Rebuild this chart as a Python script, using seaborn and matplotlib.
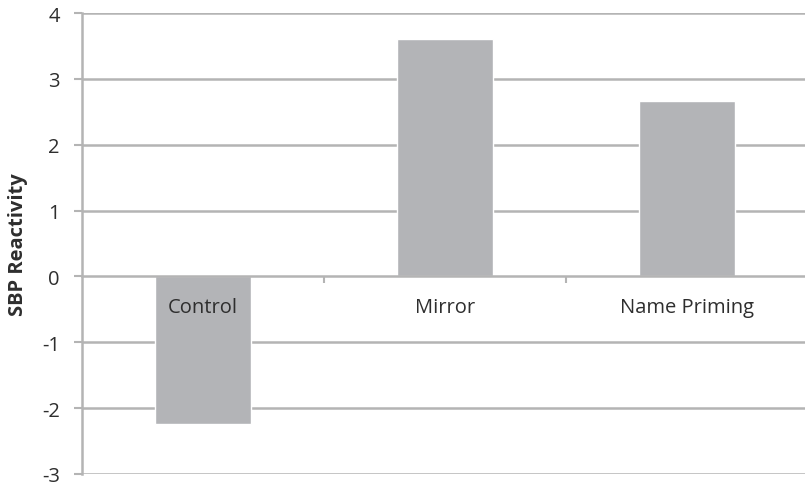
import matplotlib
matplotlib.use("Agg")
import matplotlib.pyplot as plt
import seaborn as sns
import pandas as pd

# Systolic blood pressure reactivity by condition
conditions = ["Control", "Mirror", "Name Priming"]
sbp_reactivity = [-2.24, 3.61, 2.67]
y_ticks = [-3, -2, -1, 0, 1, 2, 3, 4]

df = pd.DataFrame({"condition": conditions, "sbp": sbp_reactivity})

sns.set_theme(style="white")
plt.rcParams["font.family"] = ["Open Sans", "DejaVu Sans"]

bar_color = "#b3b4b7"
grid_color = "#b4b4b4"
text_color = "#2e2e2e"

fig = plt.figure(figsize=(8.05, 4.89), dpi=100)
ax = fig.add_axes([82 / 805, 14 / 489, 726 / 805, 461 / 489])

sns.barplot(data=df, x="condition", y="sbp", color=bar_color, width=0.395,
            saturation=1, ax=ax, zorder=3)

ax.set_ylim(-3, 4)
ax.set_xlim(-0.5, 2.5)
ax.set_yticks(y_ticks)
ax.set_yticklabels([str(t) for t in y_ticks])
for t in y_ticks:
    if t != 0:
        ax.axhline(t, color=grid_color, lw=1.8, zorder=1)

# Zero line acts as the category axis, labels hang just below it
for side in ["top", "right"]:
    ax.spines[side].set_visible(False)
ax.spines["bottom"].set_position(("data", 0))
ax.spines["bottom"].set_color(grid_color)
ax.spines["bottom"].set_linewidth(1.8)
ax.spines["bottom"].set_zorder(4)
ax.spines["left"].set_color(grid_color)
ax.spines["left"].set_linewidth(1.8)

ax.set_xticks([0, 1, 2])
ax.set_xticklabels(conditions)
ax.set_xticks([0.5, 1.5], minor=True)
ax.tick_params(axis="x", which="major", length=0, pad=15, labelsize=14.5,
               labelcolor=text_color)
ax.tick_params(axis="x", which="minor", bottom=True, length=5, width=1.5,
               color=grid_color, direction="out")
ax.tick_params(axis="y", which="major", left=True, length=6, width=1.5,
               color=grid_color, pad=10, labelsize=14.5, labelcolor=text_color)
ax.xaxis.set_zorder(5)

ax.set_xlabel("")
ax.set_ylabel("SBP Reactivity", fontsize=14.5, fontweight="bold",
              color=text_color)
ax.yaxis.set_label_coords(-0.074, 0.5)

fig.savefig("out.png", dpi=100)
